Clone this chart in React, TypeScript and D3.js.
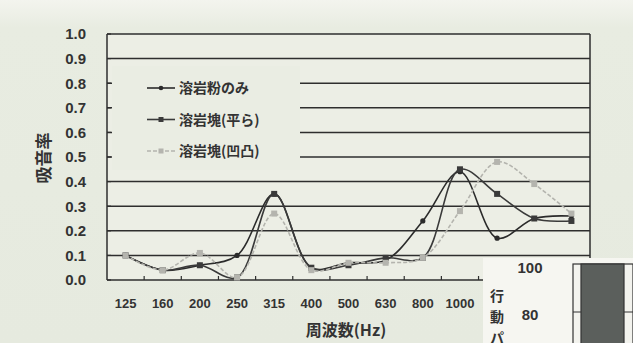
import React from 'react';
import * as d3 from 'd3';

const categories = ['125', '160', '200', '250', '315', '400', '500', '630', '800', '1000', '1250', '1600', '2000'];
const seriesNames = ['溶岩粉のみ', '溶岩塊(平ら)', '溶岩塊(凹凸)'];
const powderOnly = [0.1, 0.04, 0.06, 0.1, 0.35, 0.05, 0.07, 0.08, 0.24, 0.44, 0.17, 0.25, 0.26];
const blockFlat = [0.1, 0.04, 0.06, 0.01, 0.35, 0.05, 0.06, 0.09, 0.09, 0.45, 0.35, 0.25, 0.24];
const blockRough = [0.1, 0.04, 0.11, 0.01, 0.27, 0.04, 0.07, 0.07, 0.09, 0.28, 0.48, 0.39, 0.27];
const yTicks = [0, 0.1, 0.2, 0.3, 0.4, 0.5, 0.6, 0.7, 0.8, 0.9, 1.0];
const overlayTicks = ['100', '80'];
const overlayTitle = ['行', '動', 'パ'];

const W = 633, H = 343;
const left = 107, right = 590, top = 34, bottom = 280;
const font = '"Liberation Sans", Arial, sans-serif';
const cjk = '"Noto Sans CJK JP", "Noto Sans", sans-serif';

export default function App() {
  const x = d3.scaleBand<string>().domain(categories).range([left, right]);
  const y = d3.scaleLinear().domain([0, 1]).range([bottom, top]);
  const cx = (c: string) => (x(c) as number) + x.bandwidth() / 2;
  const line = d3
    .line<number>()
    .x((_, i) => cx(categories[i]))
    .y((d) => y(d))
    .curve(d3.curveCatmullRom.alpha(0.5));

  const series = [
    { name: seriesNames[0], data: powderOnly, stroke: '#2b2b2b', marker: 'circle', dash: '' },
    { name: seriesNames[1], data: blockFlat, stroke: '#3a3a3a', marker: 'square', dash: '' },
    { name: seriesNames[2], data: blockRough, stroke: '#b4b4ae', marker: 'square', dash: '4,2' },
  ];

  const boundaries = categories.slice(1).map((c) => x(c) as number);

  return (
    <svg width={W} height={H} style={{ position: 'absolute', left: 0, top: 0 }}>
      <defs>
        <linearGradient id="bg" x1="0" y1="0" x2="0" y2="1">
          <stop offset="0" stopColor="#f3f4ee" />
          <stop offset="0.08" stopColor="#e8ece1" />
          <stop offset="1" stopColor="#e6eadf" />
        </linearGradient>
      </defs>
      <rect x={0} y={0} width={W} height={H} fill="url(#bg)" />
      <rect x={left} y={top} width={right - left} height={bottom - top} fill="#eceee5" />

      {/* gridlines */}
      {yTicks.map((t) => (
        <line key={t} x1={left} x2={right} y1={y(t)} y2={y(t)} stroke="#2e2e2e" strokeWidth={1.5} />
      ))}

      {/* legend background */}
      <rect x={112} y={66} width={188} height={104} fill="#eaede3" />

      {/* axes */}
      <line x1={left} x2={left} y1={top} y2={bottom} stroke="#2e2e2e" strokeWidth={1.5} />
      <line x1={right} x2={right} y1={top} y2={bottom} stroke="#2e2e2e" strokeWidth={1.5} />
      {yTicks.map((t) => (
        <line key={'yt' + t} x1={left} x2={left + 4} y1={y(t)} y2={y(t)} stroke="#2e2e2e" strokeWidth={1.2} />
      ))}
      {boundaries.map((b, i) => (
        <line key={'xt' + i} x1={b} x2={b} y1={bottom} y2={bottom - 4} stroke="#2e2e2e" strokeWidth={1.2} />
      ))}

      {/* y tick labels */}
      {yTicks.map((t) => (
        <text key={'yl' + t} x={86} y={y(t)} dy="0.36em" textAnchor="end" fontFamily={font} fontWeight="bold" fontSize={15} fill="#333">
          {t.toFixed(1)}
        </text>
      ))}
      {/* x tick labels */}
      {categories.map((c) => (
        <text key={'xl' + c} x={cx(c)} y={303} dy="0.36em" textAnchor="middle" fontFamily={font} fontWeight="bold" fontSize={13} fill="#333">
          {c}
        </text>
      ))}

      {/* titles */}
      <text transform={`translate(44,158) rotate(-90)`} textAnchor="middle" dy="0.36em" fontFamily={cjk} fontWeight="bold" fontSize={17} fill="#333">
        吸音率
      </text>
      <text x={346} y={330} textAnchor="middle" dy="0.36em" fontFamily={cjk} fontWeight="bold" fontSize={16} fill="#333">
        周波数(Hz)
      </text>

      {/* series */}
      {series.map((s) => (
        <g key={s.name}>
          <path d={line(s.data) || ''} fill="none" stroke={s.stroke} strokeWidth={1.6} strokeDasharray={s.dash} />
          {s.data.map((v, i) =>
            s.marker === 'circle' ? (
              <circle key={i} cx={cx(categories[i])} cy={y(v)} r={2.6} fill={s.stroke} />
            ) : (
              <rect key={i} x={cx(categories[i]) - 3} y={y(v) - 3} width={6} height={6} fill={s.stroke} />
            )
          )}
        </g>
      ))}

      {/* legend */}
      {series.map((s, i) => {
        const ly = 88 + i * 31.5;
        return (
          <g key={'lg' + s.name}>
            <line x1={147} x2={175} y1={ly} y2={ly} stroke={s.stroke} strokeWidth={1.6} strokeDasharray={s.dash} />
            {s.marker === 'circle' ? (
              <circle cx={161} cy={ly} r={2.3} fill={s.stroke} />
            ) : (
              <rect x={158.5} y={ly - 2.5} width={5} height={5} fill={s.stroke} />
            )}
            <text x={179} y={ly} dy="0.36em" fontFamily={cjk} fontWeight="bold" fontSize={14} fill="#333">
              {s.name}
            </text>
          </g>
        );
      })}

      {/* overlapping neighbouring figure */}
      <rect x={483} y={258} width={150} height={85} fill="#f6f6f1" />
      <text x={530} y={268} dy="0.36em" textAnchor="middle" fontFamily={font} fontWeight="bold" fontSize={15} fill="#333">
        {overlayTicks[0]}
      </text>
      <text x={530} y={315} dy="0.36em" textAnchor="middle" fontFamily={font} fontWeight="bold" fontSize={15} fill="#333">
        {overlayTicks[1]}
      </text>
      {overlayTitle.map((ch, i) => (
        <text key={ch} x={497} y={296 + i * 21} dy="0.36em" textAnchor="middle" fontFamily={cjk} fontWeight="bold" fontSize={14} fill="#333">
          {ch}
        </text>
      ))}
      <rect x={573} y={264} width={60} height={80} fill="#f3f3ee" stroke="#333" strokeWidth={1.2} />
      <line x1={573} x2={633} y1={312} y2={312} stroke="#333" strokeWidth={1.2} />
      <rect x={581} y={264} width={43} height={80} fill="#5b5f5c" stroke="#333" strokeWidth={1.2} />
    </svg>
  );
}
